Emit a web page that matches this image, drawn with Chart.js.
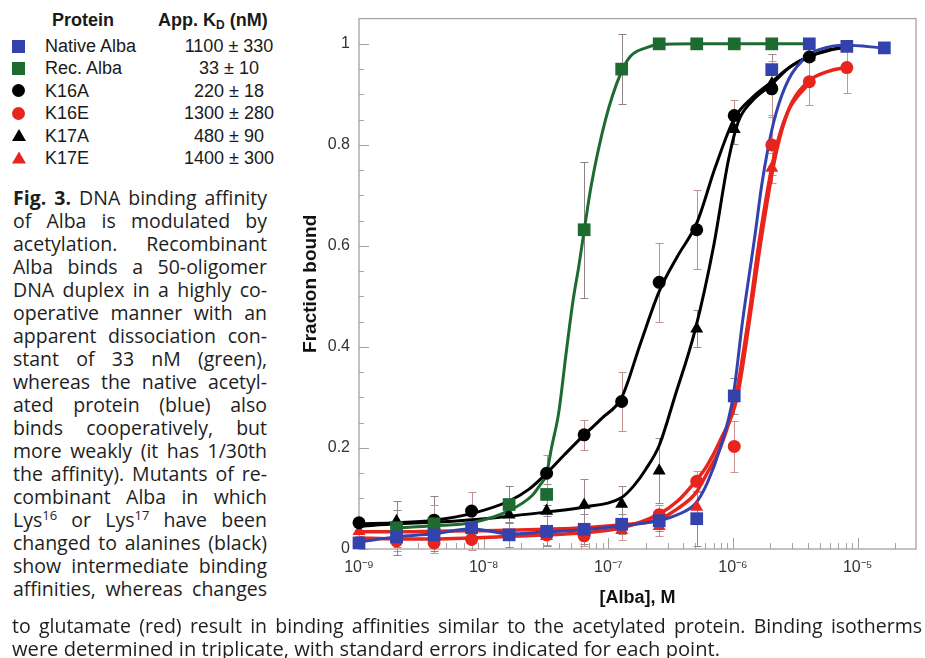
<!DOCTYPE html>
<html>
<head>
<meta charset="utf-8">
<title>Alba DNA binding isotherms</title>
<script src="https://cdn.jsdelivr.net/npm/chart.js@4.4.1/dist/chart.umd.min.js"></script>
<style>
  html, body { margin: 0; padding: 0; background: #fff; }
  body { position: relative; width: 925px; height: 658px; overflow: hidden; color: #1a1a1a; }
  .kd { position: absolute; font-family: 'Liberation Sans', Arial, sans-serif; font-size: 18px; line-height: 22px; white-space: nowrap; }
  .kd.head { font-weight: bold; }
  .kd sub { font-size: 12px; line-height: 0; vertical-align: -3px; }
  .mark { position: absolute; width: 13px; height: 13px; }
  .circ { border-radius: 50%; }
  .tri { width: 14px; height: 12px; clip-path: polygon(50% 0, 100% 100%, 0 100%); }
  .cap { position: absolute; font-family: 'Open Sans', 'Noto Sans', sans-serif; font-size: 19.5px; line-height: 23px; height: 23px; white-space: nowrap; color: #1e1e1e; }
  .cap span { display: inline-block; transform-origin: 0 50%; }
  .cap sup { font-size: 13px; line-height: 0; vertical-align: 7px; }
  #chart { position: absolute; left: 290px; top: 0; }
</style>
</head>
<body>
<canvas id="chart" width="635" height="615"></canvas>
<script>
// concentrations of Alba (M), doubling series
const conc = [1e-9, 2e-9, 4e-9, 8e-9, 1.6e-8, 3.2e-8, 6.4e-8, 1.28e-7, 2.56e-7, 5.12e-7, 1.024e-6, 2.048e-6, 4.096e-6, 8.192e-6, 1.6384e-5];

// measured fraction bound (null = not visible)
const nativeAlba = [0.012, 0.024, 0.028, 0.042, 0.028, 0.035, 0.039, 0.049, 0.056, 0.06, 0.303, 0.949, 1.0, 0.995, 0.992];
const recAlba    = [null, 0.042, 0.05, null, 0.088, 0.108, 0.632, 0.95, 1.0, 1.0, 1.0, 1.0, null, null, null];
const k16a       = [0.052, null, 0.057, 0.075, null, 0.15, 0.226, 0.292, 0.528, 0.632, 0.858, 0.911, 0.974, null, null];
const k16e       = [null, 0.016, 0.012, 0.019, null, 0.028, 0.026, null, 0.068, 0.134, 0.203, 0.80, 0.925, 0.953, null];
const k17a       = [null, 0.055, null, null, 0.068, 0.075, 0.087, 0.089, 0.155, 0.436, 0.831, 0.921, 0.974, null, null];
const k17e       = [0.035, null, null, null, null, 0.025, null, 0.037, 0.045, 0.083, null, 0.754, null, null, null];

// standard errors
const nativeAlbaErr = [null, 0.02, 0.025, 0.03, 0.025, 0.03, 0.03, 0.02, 0.02, 0.054, 0.035, 0.03, null, null, null];
const recAlbaErr    = [null, 0.054, 0.054, null, 0.036, 0.02, 0.135, 0.07, null, null, null, null, null, null, null];
const k16aErr       = [null, null, 0.031, 0.038, null, 0.037, 0.03, 0.058, 0.078, 0.078, 0.03, 0.055, null, null, null];
const k16eErr       = [null, 0.02, 0.02, 0.02, null, 0.02, 0.02, null, 0.02, 0.02, 0.05, 0.06, 0.046, 0.05, null];
const k17aErr       = [null, 0.022, null, null, 0.03, 0.03, 0.052, 0.035, 0.064, 0.037, 0.03, null, null, null, null];
const k17eErr       = [0.01, null, null, null, null, 0.02, null, 0.02, 0.02, 0.03, null, 0.03, null, null, null];

// binding isotherm curves
const fitRecX = [2e-9, 4e-9, 8e-9, 1.6e-8, 2.45e-8, 2.8e-8, 3.2e-8, 3.5e-8, 4.0e-8, 4.6e-8, 5.2e-8, 5.8e-8, 6.4e-8, 7.3e-8, 9.5e-8, 1.25e-7, 1.5e-7, 2.0e-7, 2.5e-7, 5e-7, 1e-6, 2e-6, 4e-6];
const fitRecY = [0.042, 0.046, 0.052, 0.076, 0.106, 0.125, 0.15, 0.2, 0.27, 0.39, 0.49, 0.56, 0.63, 0.72, 0.85, 0.94, 0.975, 0.992, 0.998, 1.0, 1.0, 1.0, 1.0];
const fitNativeX = [1e-9, 2e-9, 4e-9, 8e-9, 1.6e-8, 3.2e-8, 6.4e-8, 1.28e-7, 2.5e-7, 3.6e-7, 5e-7, 6.2e-7, 7.9e-7, 1e-6, 1.2e-6, 1.5e-6, 1.7e-6, 1.9e-6, 2.2e-6, 2.8e-6, 4e-6, 5.9e-6, 8e-6, 1.6e-5];
const fitNativeY = [0.014, 0.024, 0.03, 0.04, 0.03, 0.034, 0.038, 0.046, 0.056, 0.068, 0.09, 0.13, 0.2, 0.3, 0.455, 0.62, 0.72, 0.79, 0.86, 0.93, 0.977, 0.994, 0.997, 0.992];
const fitK16AX = [1e-9, 2e-9, 4e-9, 8e-9, 1.6e-8, 2.3e-8, 3.2e-8, 4.5e-8, 6.4e-8, 9e-8, 1.28e-7, 1.8e-7, 2.56e-7, 3.6e-7, 5.12e-7, 7.2e-7, 1.024e-6, 1.45e-6, 2.048e-6, 2.9e-6, 4.096e-6, 5.8e-6, 8.192e-6];
const fitK16AY = [0.05, 0.052, 0.057, 0.07, 0.095, 0.118, 0.15, 0.188, 0.226, 0.26, 0.3, 0.405, 0.51, 0.58, 0.645, 0.755, 0.852, 0.895, 0.925, 0.955, 0.975, 0.988, 0.993];
const fitK17AX = [1e-9, 2e-9, 4e-9, 8e-9, 1.6e-8, 3.2e-8, 6.4e-8, 1.28e-7, 1.6e-7, 2e-7, 2.56e-7, 3.4e-7, 5e-7, 7e-7, 9.2e-7, 1.1e-6, 1.4e-6, 2.05e-6, 2.8e-6, 4e-6, 5.9e-6, 8e-6];
const fitK17AY = [0.045, 0.05, 0.053, 0.058, 0.065, 0.073, 0.083, 0.102, 0.125, 0.158, 0.205, 0.3, 0.436, 0.6, 0.77, 0.845, 0.885, 0.92, 0.952, 0.974, 0.987, 0.993];
const fitK16EX = [1e-9, 2e-9, 4e-9, 8e-9, 1.6e-8, 3.2e-8, 6.4e-8, 1.28e-7, 2.5e-7, 3.6e-7, 5e-7, 6.2e-7, 7.9e-7, 1.08e-6, 1.36e-6, 1.7e-6, 2.2e-6, 2.8e-6, 4e-6, 5.9e-6, 8e-6];
const fitK16EY = [0.022, 0.02, 0.02, 0.022, 0.025, 0.028, 0.032, 0.042, 0.068, 0.095, 0.134, 0.165, 0.215, 0.3, 0.455, 0.62, 0.78, 0.87, 0.925, 0.946, 0.953];
const fitK17EX = [1e-9, 2e-9, 4e-9, 8e-9, 1.6e-8, 3.2e-8, 6.4e-8, 1.28e-7, 2.5e-7, 3.6e-7, 5e-7, 6.2e-7, 7.9e-7, 1.05e-6, 1.33e-6, 1.65e-6, 2.15e-6, 2.75e-6, 4e-6];
const fitK17EY = [0.034, 0.034, 0.035, 0.036, 0.037, 0.039, 0.042, 0.048, 0.058, 0.08, 0.11, 0.15, 0.2, 0.3, 0.455, 0.62, 0.78, 0.865, 0.92];

// axis ticks
const xDecades = [-9, -8, -7, -6, -5];
const yTickLabels = [0, 0.2, 0.4, 0.6, 0.8, 1];

// key table
const proteins = ['Native Alba', 'Rec. Alba', 'K16A', 'K16E', 'K17A', 'K17E'];
const kdValues = ['1100 ± 330', '33 ± 10', '220 ± 18', '1300 ± 280', '480 ± 90', '1400 ± 300'];

const captionLines = [
  '<b>Fig. 3.</b> DNA binding affinity',
  'of Alba is modulated by',
  'acetylation. Recombinant',
  'Alba binds a 50-oligomer',
  'DNA duplex in a highly co-',
  'operative manner with an',
  'apparent dissociation con-',
  'stant of 33 nM (green),',
  'whereas the native acetyl-',
  'ated protein (blue) also',
  'binds cooperatively, but',
  'more weakly (it has 1/30th',
  'the affinity). Mutants of re-',
  'combinant Alba in which',
  'Lys<sup>16</sup> or Lys<sup>17</sup> have been',
  'changed to alanines (black)',
  'show intermediate binding',
  'affinities, whereas changes',
  'to glutamate (red) result in binding affinities similar to the acetylated protein. Binding isotherms',
  'were determined in triplicate, with standard errors indicated for each point.'
];

const BLUE = '#3442ad', GREEN = '#1d6b30', BLACK = '#000000', RED = '#e8251d';
const markStyles = [
  { color: BLUE, cls: '' }, { color: GREEN, cls: '' }, { color: BLACK, cls: 'circ' },
  { color: RED, cls: 'circ' }, { color: BLACK, cls: 'tri' }, { color: RED, cls: 'tri' }
];

// ---- key table ----
function addDiv(cls, html, left, top, extra) {
  const d = document.createElement('div');
  d.className = cls;
  d.innerHTML = html;
  d.style.left = left + 'px';
  d.style.top = top + 'px';
  if (extra) Object.assign(d.style, extra);
  document.body.appendChild(d);
  return d;
}
addDiv('kd head', 'Protein', 52, 9);
addDiv('kd head', 'App. K<sub>D</sub> (nM)', 158, 9);
proteins.forEach((name, i) => {
  const cy = 46 + i * 22.4;
  const st = markStyles[i];
  const m = addDiv('mark ' + st.cls, '', 12, cy - 6.5);
  m.style.background = st.color;
  addDiv('kd', name, 45, cy - 11);
  addDiv('kd', kdValues[i], 168, cy - 11, { width: '122px', textAlign: 'center' });
});

// ---- caption, justified line by line ----
captionLines.forEach((txt, i) => {
  const wide = i >= 18;
  const left = wide ? 12 : 13;
  const width = i === 19 ? 708 : (wide ? 910 : 254);
  const top = wide ? (i === 18 ? 613.5 : 636.5) : 185.5 + i * 23;
  const div = addDiv('cap', '', left, top);
  const span = document.createElement('span');
  span.innerHTML = txt;
  div.appendChild(span);
  const natural = span.getBoundingClientRect().width;
  if (natural > width || i === 19) {
    span.style.transform = 'scaleX(' + (width / natural) + ')';
  } else {
    const gaps = (span.textContent.match(/ /g) || []).length;
    if (gaps) span.style.wordSpacing = ((width - natural) / gaps) + 'px';
  }
});

// ---- chart ----
function toPoints(xs, ys) {
  return xs.map((x, i) => ({ x: x, y: ys[i] })).filter(p => p.y !== null);
}
const supMap = { '-': '\u207B', '0': '\u2070', '1': '\u00B9', '2': '\u00B2', '3': '\u00B3', '4': '\u2074', '5': '\u2075', '6': '\u2076', '7': '\u2077', '8': '\u2078', '9': '\u2079' };
function powLabel(v) {
  const e = String(Math.round(Math.log10(v)));
  return '10' + e.split('').map(c => supMap[c]).join('');
}

const errorSets = [
  { vals: k16e, err: k16eErr, color: '#c99590' },
  { vals: k17e, err: k17eErr, color: '#c99590' },
  { vals: nativeAlba, err: nativeAlbaErr, color: '#958b8b' },
  { vals: recAlba, err: recAlbaErr, color: '#8f8585' },
  { vals: k16a, err: k16aErr, color: '#bf928d' },
  { vals: k17a, err: k17aErr, color: '#9c8a8a' }
];

const frameAndBars = {
  id: 'frameAndBars',
  beforeDatasetsDraw(chart) {
    const { ctx, chartArea: a, scales: { x, y } } = chart;
    ctx.save();
    // error bars
    errorSets.forEach(s => {
      ctx.strokeStyle = s.color;
      ctx.lineWidth = 1;
      ctx.beginPath();
      s.vals.forEach((v, i) => {
        const e = s.err[i];
        if (v === null || e === null) return;
        const px = Math.round(x.getPixelForValue(conc[i])) + 0.5;
        const y1 = Math.round(y.getPixelForValue(v - e)) + 0.5;
        const y2 = Math.round(y.getPixelForValue(v + e)) + 0.5;
        ctx.moveTo(px, y1); ctx.lineTo(px, y2);
        ctx.moveTo(px - 4, y1); ctx.lineTo(px + 4, y1);
        ctx.moveTo(px - 4, y2); ctx.lineTo(px + 4, y2);
      });
      ctx.stroke();
    });
    // frame
    ctx.strokeStyle = '#aaa0a0';
    ctx.lineWidth = 1.3;
    ctx.strokeRect(a.left, a.top, a.right - a.left, a.bottom - a.top);
    // inward ticks
    ctx.lineWidth = 1;
    ctx.beginPath();
    for (let k = 0; k <= 20; k++) {
      const py = Math.round(y.getPixelForValue(k * 0.05)) + 0.5;
      const len = k % 4 === 0 ? 10 : 5;
      ctx.moveTo(a.left, py); ctx.lineTo(a.left + len, py);
    }
    xDecades.forEach(e => {
      for (let m = 1; m <= 9; m++) {
        const v = m * Math.pow(10, e);
        if (v > x.max) break;
        const px = Math.round(x.getPixelForValue(v)) + 0.5;
        const len = m === 1 ? 11 : 6;
        ctx.moveTo(px, a.bottom); ctx.lineTo(px, a.bottom - len);
      }
    });
    ctx.stroke();
    ctx.restore();
  }
};

function curve(xs, ys, color, width, order) {
  return {
    data: toPoints(xs, ys), showLine: true, borderColor: color, borderWidth: width,
    pointRadius: 0, cubicInterpolationMode: 'monotone', fill: false, order: order, clip: false
  };
}
function marks(ys, color, style, radius, order) {
  return {
    data: toPoints(conc, ys), showLine: false, pointStyle: style, pointRadius: radius,
    backgroundColor: color, borderColor: color, borderWidth: 0, order: order, clip: false
  };
}

Chart.defaults.font.family = "'Liberation Sans', Arial, sans-serif";

new Chart(document.getElementById('chart'), {
  type: 'scatter',
  data: {
    datasets: [
      marks(nativeAlba, BLUE, 'rect', 9, 1),
      marks(recAlba, GREEN, 'rect', 9, 2),
      marks(k16a, BLACK, 'circle', 6.5, 3),
      marks(k17a, BLACK, 'triangle', 7.5, 4),
      marks(k16e, RED, 'circle', 6.5, 5),
      marks(k17e, RED, 'triangle', 7.5, 6),
      curve(fitNativeX, fitNativeY, BLUE, 3, 11),
      curve(fitRecX, fitRecY, GREEN, 3, 12),
      curve(fitK16AX, fitK16AY, BLACK, 3, 13),
      curve(fitK17AX, fitK17AY, BLACK, 3, 14),
      curve(fitK16EX, fitK16EY, RED, 3.5, 15),
      curve(fitK17EX, fitK17EY, RED, 3.5, 16)
    ]
  },
  options: {
    responsive: false,
    animation: false,
    events: [],
    layout: { padding: { top: 15, right: 3, left: 0, bottom: 0 } },
    plugins: { legend: { display: false }, tooltip: { enabled: false } },
    scales: {
      x: {
        type: 'logarithmic',
        min: 1e-9,
        max: 2.94e-5,
        grid: { display: false, drawTicks: false },
        border: { display: false },
        afterBuildTicks: s => { s.ticks = xDecades.map(e => ({ value: Math.pow(10, e) })); },
        afterFit: s => { s.height = 66; },
        ticks: {
          callback: v => powLabel(v),
          font: { size: 16 }, color: '#333', padding: 9, maxRotation: 0, autoSkip: false
        },
        title: {
          display: true, text: '[Alba], M', color: '#111',
          font: { size: 18, weight: 'bold' }, padding: { top: 0, bottom: 6 }
        }
      },
      y: {
        min: 0,
        max: 1.05,
        grid: { display: false, drawTicks: false },
        border: { display: false },
        afterBuildTicks: s => { s.ticks = yTickLabels.map(v => ({ value: v })); },
        afterFit: s => { s.width = 69; },
        ticks: {
          callback: v => (v === 0 || v === 1) ? String(v) : v.toFixed(1),
          font: { size: 16 }, color: '#333', padding: 9
        },
        title: {
          display: true, text: 'Fraction bound', color: '#111',
          font: { size: 19, weight: 'bold' }, padding: { top: 9, bottom: 0 }
        }
      }
    }
  },
  plugins: [frameAndBars]
});
</script>
</body>
</html>
